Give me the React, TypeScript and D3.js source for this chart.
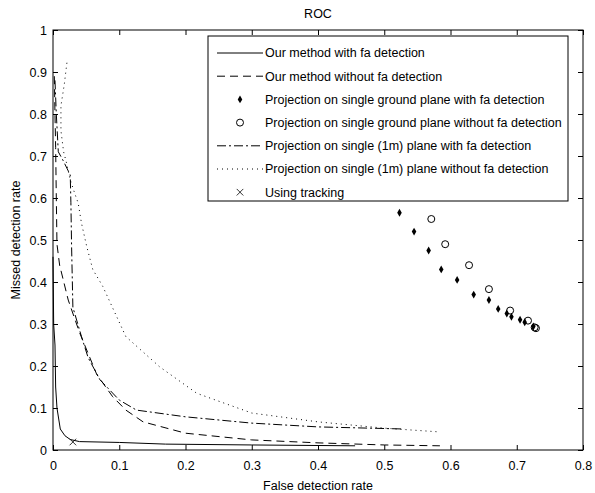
import React, { useEffect, useRef } from 'react';
import * as d3 from 'd3';

type Pt = [number, number];

// axis ticks
const xTicks = [0, 0.1, 0.2, 0.3, 0.4, 0.5, 0.6, 0.7, 0.8];
const yTicks = [0, 0.1, 0.2, 0.3, 0.4, 0.5, 0.6, 0.7, 0.8, 0.9, 1];

const legendLabels = [
  'Our method with fa detection',
  'Our method without fa detection',
  'Projection on single ground plane with fa detection',
  'Projection on single ground plane without fa detection',
  'Projection on single (1m) plane with fa detection',
  'Projection on single (1m) plane without fa detection',
  'Using tracking',
];

// series (false detection rate, missed detection rate)
const ourWithFa: Pt[] = [
  [0, 0.46], [0.001, 0.3], [0.003, 0.25], [0.004, 0.15], [0.006, 0.1],
  [0.011, 0.05], [0.018, 0.034], [0.026, 0.025], [0.04, 0.02], [0.1, 0.018],
  [0.17, 0.014], [0.3, 0.012], [0.456, 0.01],
];

const ourWithoutFa: Pt[] = [
  [0.002, 0.89], [0.003, 0.8], [0.004, 0.72], [0.005, 0.6], [0.006, 0.49],
  [0.01, 0.44], [0.023, 0.357], [0.04, 0.28], [0.066, 0.18], [0.09, 0.127],
  [0.11, 0.095], [0.136, 0.067], [0.2, 0.04], [0.3, 0.024], [0.4, 0.017],
  [0.5, 0.012], [0.584, 0.01],
];

const groundWithFa: Pt[] = [
  [0.523, 0.565], [0.545, 0.52], [0.567, 0.475], [0.586, 0.43], [0.61, 0.405],
  [0.635, 0.37], [0.658, 0.357], [0.672, 0.336], [0.685, 0.325], [0.692, 0.317],
  [0.705, 0.31], [0.712, 0.304], [0.725, 0.294],
];

const groundWithoutFa: Pt[] = [
  [0.571, 0.55], [0.592, 0.49], [0.628, 0.44], [0.658, 0.383], [0.69, 0.332],
  [0.717, 0.308], [0.727, 0.292], [0.729, 0.29],
];

const oneMWithFa: Pt[] = [
  [0.003, 0.88], [0.005, 0.8], [0.008, 0.71], [0.015, 0.69], [0.026, 0.655],
  [0.027, 0.59], [0.028, 0.49], [0.03, 0.34], [0.043, 0.27], [0.053, 0.22],
  [0.071, 0.167], [0.1, 0.119], [0.126, 0.095], [0.2, 0.079], [0.3, 0.064],
  [0.4, 0.055], [0.53, 0.05],
];

const oneMWithoutFa: Pt[] = [
  [0.021, 0.922], [0.017, 0.87], [0.012, 0.82], [0.012, 0.76], [0.016, 0.71],
  [0.02, 0.686], [0.026, 0.643], [0.033, 0.61], [0.038, 0.588], [0.043, 0.54],
  [0.051, 0.484], [0.06, 0.43], [0.075, 0.39], [0.11, 0.27], [0.161, 0.198],
  [0.217, 0.135], [0.3, 0.088], [0.4, 0.067], [0.5, 0.052], [0.584, 0.043],
];

const tracking: Pt[] = [[0.03, 0.019]];

const FONT = '"Liberation Sans", Arial, sans-serif';

const App = () => {
  const svgRef = useRef<SVGSVGElement>(null);

  useEffect(() => {
    drawChart();
  }, []);

  const drawChart = () => {
    const root = d3.select(svgRef.current);
    root.selectAll('*').remove();

    const margin = { top: 30, right: 12, bottom: 43, left: 53 };
    const width = 595 - margin.left - margin.right;
    const height = 493 - margin.top - margin.bottom;

    const svg = root
      .append('g')
      .attr('transform', `translate(${margin.left},${margin.top})`);

    const x = d3.scaleLinear().domain([0, 0.8]).range([0, width]);
    const y = d3.scaleLinear().domain([0, 1]).range([height, 0]);
    const fmt = (d: d3.NumberValue) => String(+(+d).toFixed(1));

    // plot box
    svg
      .append('rect')
      .attr('width', width)
      .attr('height', height)
      .attr('fill', '#fff')
      .attr('stroke', '#000')
      .attr('stroke-width', 1);

    // axes with inward ticks
    const styleAxis = (g: any) => {
      g.select('.domain').remove();
      g.selectAll('line').attr('stroke', '#000');
      g.selectAll('text')
        .attr('fill', '#000')
        .style('font-family', FONT)
        .style('font-size', '12.5px');
    };

    svg
      .append('g')
      .attr('transform', `translate(0,${height})`)
      .call(d3.axisBottom(x).tickValues(xTicks).tickSizeInner(-5).tickSizeOuter(0).tickPadding(11).tickFormat(fmt))
      .call(styleAxis);

    svg
      .append('g')
      .call(d3.axisTop(x).tickValues(xTicks).tickSizeInner(-5).tickSizeOuter(0).tickFormat(() => ''))
      .call(styleAxis);

    svg
      .append('g')
      .call(d3.axisLeft(y).tickValues(yTicks).tickSizeInner(-5).tickSizeOuter(0).tickPadding(6).tickFormat(fmt))
      .call(styleAxis);

    svg
      .append('g')
      .attr('transform', `translate(${width},0)`)
      .call(d3.axisRight(y).tickValues(yTicks).tickSizeInner(-5).tickSizeOuter(0).tickFormat(() => ''))
      .call(styleAxis);

    const line = d3
      .line<Pt>()
      .x((d) => x(d[0]))
      .y((d) => y(d[1]));

    const lineSeries = [
      { data: ourWithFa, dash: null },
      { data: ourWithoutFa, dash: '8,5' },
      { data: oneMWithFa, dash: '9,3,2,3' },
      { data: oneMWithoutFa, dash: '1,4' },
    ];

    lineSeries.forEach((s) => {
      svg
        .append('path')
        .datum(s.data)
        .attr('fill', 'none')
        .attr('stroke', '#000')
        .attr('stroke-width', 1)
        .attr('stroke-dasharray', s.dash)
        .attr('d', line);
    });

    const diamond = d3.symbol().type(d3.symbolDiamond).size(18);
    const cross = d3.symbol().type(d3.symbolX).size(30);

    svg
      .selectAll('.gfa')
      .data(groundWithFa)
      .enter()
      .append('path')
      .attr('class', 'gfa')
      .attr('transform', (d) => `translate(${x(d[0])},${y(d[1])})`)
      .attr('d', diamond)
      .attr('fill', '#000');

    svg
      .selectAll('.gnofa')
      .data(groundWithoutFa)
      .enter()
      .append('circle')
      .attr('class', 'gnofa')
      .attr('cx', (d) => x(d[0]))
      .attr('cy', (d) => y(d[1]))
      .attr('r', 3.5)
      .attr('fill', 'none')
      .attr('stroke', '#000')
      .attr('stroke-width', 1);

    svg
      .selectAll('.trk')
      .data(tracking)
      .enter()
      .append('path')
      .attr('class', 'trk')
      .attr('transform', (d) => `translate(${x(d[0])},${y(d[1])})`)
      .attr('d', cross)
      .attr('fill', 'none')
      .attr('stroke', '#000')
      .attr('stroke-width', 0.8);

    // legend
    const legend = svg.append('g').attr('transform', 'translate(155,6)');
    legend
      .append('rect')
      .attr('width', 360)
      .attr('height', 165)
      .attr('fill', '#fff')
      .attr('stroke', '#000')
      .attr('stroke-width', 1);

    const kinds = ['solid', 'dash', 'diamond', 'circle', 'dashdot', 'dot', 'x'];
    legendLabels.forEach((label, i) => {
      const row = legend.append('g').attr('transform', `translate(0,${17 + i * 23.2})`);
      const k = kinds[i];
      if (k === 'solid' || k === 'dash' || k === 'dashdot' || k === 'dot') {
        row
          .append('line')
          .attr('x1', 9)
          .attr('x2', 55)
          .attr('stroke', '#000')
          .attr('stroke-width', 1)
          .attr('stroke-dasharray', k === 'dash' ? '8,5' : k === 'dashdot' ? '9,3,2,3' : k === 'dot' ? '1,4' : null);
      } else if (k === 'diamond') {
        row.append('path').attr('transform', 'translate(32,0)').attr('d', diamond).attr('fill', '#000');
      } else if (k === 'circle') {
        row
          .append('circle')
          .attr('cx', 32)
          .attr('r', 3.5)
          .attr('fill', 'none')
          .attr('stroke', '#000');
      } else {
        row
          .append('path')
          .attr('transform', 'translate(32,0)')
          .attr('d', cross)
          .attr('fill', 'none')
          .attr('stroke', '#000')
          .attr('stroke-width', 0.8);
      }
      row
        .append('text')
        .attr('x', 57)
        .attr('dy', '0.35em')
        .style('font-family', FONT)
        .style('font-size', '12.5px')
        .attr('fill', '#000')
        .text(label);
    });

    // title and axis labels
    svg
      .append('text')
      .attr('x', width / 2)
      .attr('y', -16)
      .attr('dy', '0.35em')
      .style('text-anchor', 'middle')
      .style('font-family', FONT)
      .style('font-size', '12.5px')
      .text('ROC');

    svg
      .append('text')
      .attr('x', width / 2)
      .attr('y', height + 36)
      .attr('dy', '0.35em')
      .style('text-anchor', 'middle')
      .style('font-family', FONT)
      .style('font-size', '12.5px')
      .text('False detection rate');

    svg
      .append('text')
      .attr('transform', 'rotate(-90)')
      .attr('x', -height / 2)
      .attr('y', -37)
      .attr('dy', '0.35em')
      .style('text-anchor', 'middle')
      .style('font-family', FONT)
      .style('font-size', '12.5px')
      .text('Missed detection rate');
  };

  return (
    <svg
      ref={svgRef}
      width={595}
      height={493}
      style={{ position: 'absolute', left: 0, top: 0, background: '#fff' }}
    />
  );
};

export default App;
